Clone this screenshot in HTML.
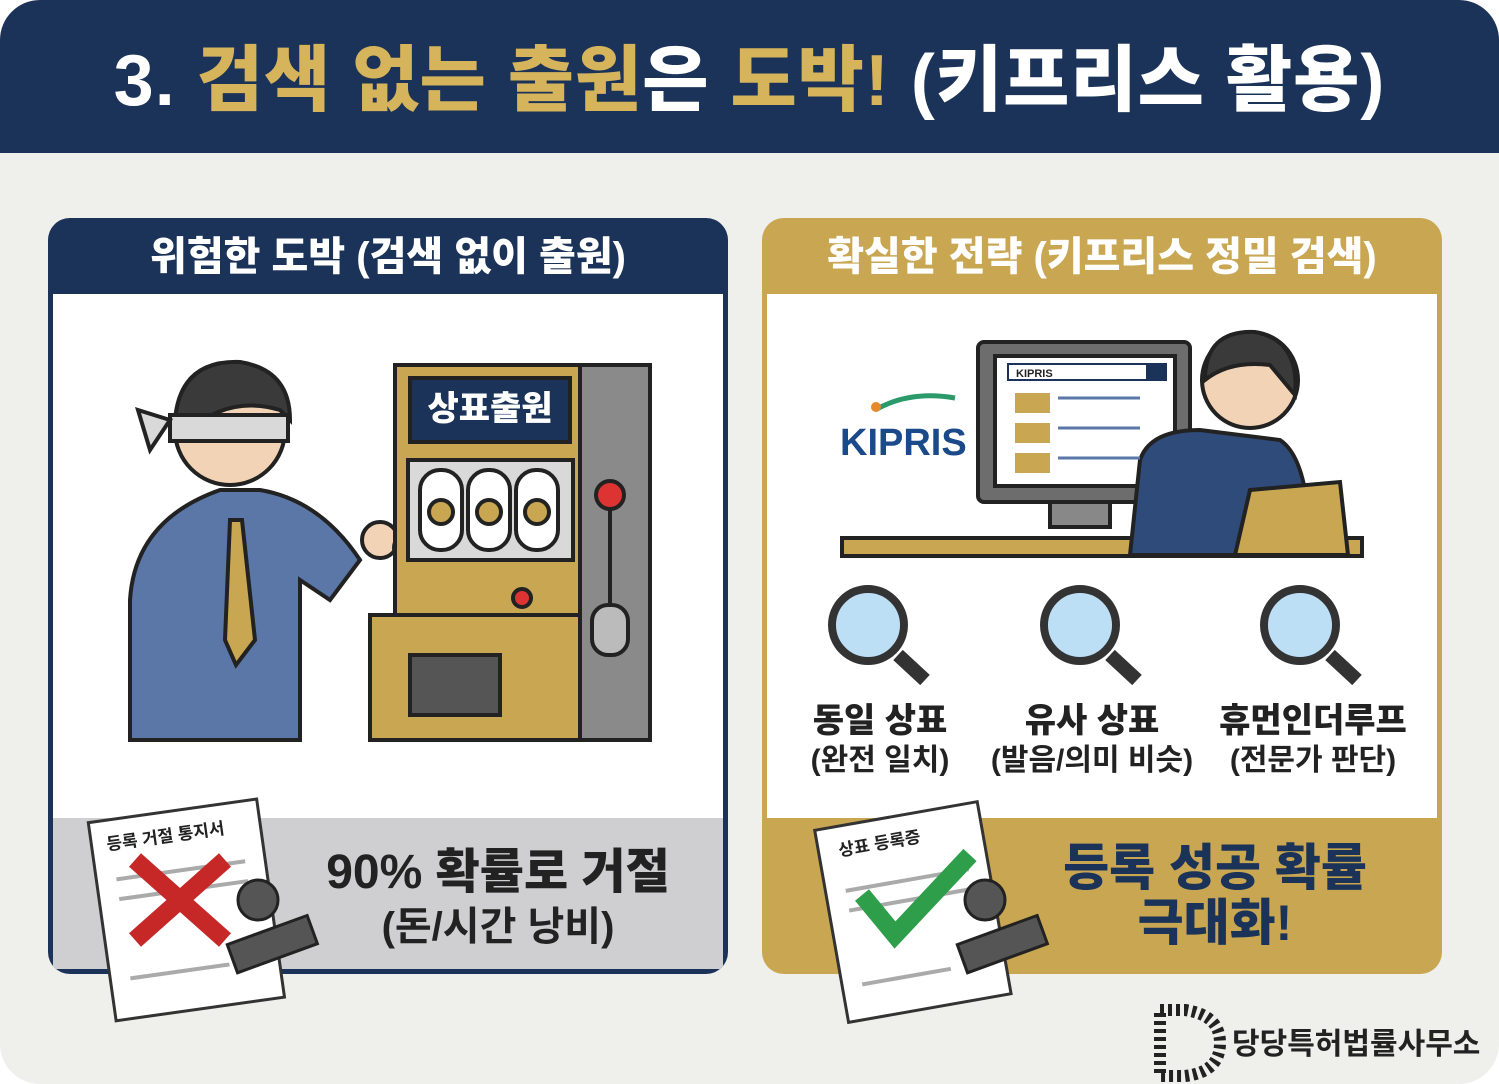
<!DOCTYPE html>
<html><head><meta charset="utf-8"><style>
body{margin:0;width:1499px;height:1084px;background:#fff;overflow:hidden;font-family:"Liberation Sans","Noto Sans CJK KR",sans-serif}
.page{position:absolute;left:0;top:0;width:1499px;height:1084px;background:#efefeb;border-radius:40px;overflow:hidden}
.hdr{position:absolute;left:0;top:0;width:1499px;height:153px;background:#1b3358;color:#fff;font-weight:900;font-size:72px;text-align:center;line-height:162px;letter-spacing:1px}
.g{color:#d6b45c}
.panel{position:absolute;top:218px;width:680px;height:756px;border-radius:22px;overflow:hidden}
.ph{position:absolute;left:0;top:0;width:100%;height:76px;color:#fff;font-weight:900;font-size:40px;text-align:center;line-height:78px}
.body{position:absolute;left:5px;top:76px;width:670px;height:524px;background:#fff}
.bot{position:absolute;left:5px;top:600px;width:670px;height:151px}
</style></head><body><div class="page">
<div class="hdr">3. <span class="g">검색 없는 출원</span>은 <span class="g">도박!</span> (키프리스 활용)</div>

<div class="panel" style="left:48px;background:#1b3358">
<div class="ph">위험한 도박 (검색 없이 출원)</div>
<div class="body"></div>
<div class="bot" style="background:#cfcfd1"></div>
</div>

<div class="panel" style="left:762px;background:#c9a652">
<div class="ph">확실한 전략 (키프리스 정밀 검색)</div>
<div class="body"></div>
<div class="bot" style="background:#c9a652"></div>
</div>

<svg width="1499" height="1084" style="position:absolute;left:0;top:0">
<g stroke="#222" stroke-width="4">
<path d="M130 740 L130 600 Q135 520 220 490 L260 490 Q320 500 360 560 L330 600 L300 580 L300 740 Z" fill="#5a77a8"/>
<circle cx="230" cy="430" r="55" fill="#f3d3b5"/>
<path d="M175 420 Q180 360 240 362 Q290 370 290 420 L280 410 Q230 395 190 430 Z" fill="#3a3a3a"/>
<rect x="170" y="415" width="118" height="26" fill="#d9d9d9"/>
<path d="M170 420 L138 410 L150 450 Z" fill="#d9d9d9"/>
<path d="M230 520 L242 520 L255 640 L236 665 L225 640 Z" fill="#c9a652"/>
<circle cx="380" cy="540" r="18" fill="#f3d3b5"/>
<circle cx="410" cy="548" r="16" fill="#c9a652"/>
<rect x="395" y="365" width="255" height="375" fill="#8a8a8a"/>
<rect x="395" y="365" width="185" height="255" fill="#c9a652"/>
<rect x="410" y="378" width="160" height="64" fill="#1b3358"/>
<rect x="408" y="460" width="165" height="100" fill="#d9d9d9"/>
<rect x="420" y="470" width="42" height="80" rx="20" fill="#fff"/>
<rect x="468" y="470" width="42" height="80" rx="20" fill="#fff"/>
<rect x="516" y="470" width="42" height="80" rx="20" fill="#fff"/>
<circle cx="441" cy="512" r="12" fill="#c9a652"/><circle cx="489" cy="512" r="12" fill="#c9a652"/><circle cx="537" cy="512" r="12" fill="#c9a652"/>
<rect x="370" y="615" width="210" height="125" fill="#c9a652"/>
<rect x="410" y="655" width="90" height="60" fill="#555"/>
<circle cx="610" cy="495" r="14" fill="#d33"/>
<line x1="610" y1="510" x2="610" y2="610"/>
<rect x="592" y="605" width="36" height="50" rx="16" fill="#bbb"/>
<circle cx="522" cy="598" r="9" fill="#d33"/>
</g>
<text x="490" y="420" fill="#fff" font-size="34" font-weight="900" text-anchor="middle" font-family="Liberation Sans,Noto Sans CJK KR,sans-serif">상표출원</text>
<g transform="rotate(-8 185 900)"><rect x="100" y="810" width="170" height="200" fill="#fff" stroke="#333" stroke-width="3"/>
<line x1="120" y1="870" x2="250" y2="870" stroke="#aaa" stroke-width="4"/><line x1="120" y1="890" x2="250" y2="890" stroke="#aaa" stroke-width="4"/><line x1="120" y1="970" x2="220" y2="970" stroke="#aaa" stroke-width="4"/>
<text x="115" y="840" font-size="17" font-weight="700" fill="#222" font-family="Liberation Sans,Noto Sans CJK KR,sans-serif">등록 거절 통지서</text></g>
<path d="M135 860 L225 940 M225 860 L135 940" stroke="#c62828" stroke-width="18"/>
<g stroke="#222" stroke-width="3"><rect x="230" y="930" width="85" height="30" fill="#555" transform="rotate(-20 270 945)"/><circle cx="258" cy="900" r="20" fill="#555"/></g>
<text x="498" y="888" font-size="48" font-weight="900" fill="#222" text-anchor="middle" font-family="Liberation Sans,Noto Sans CJK KR,sans-serif">90% 확률로 거절</text>
<text x="498" y="940" font-size="40" font-weight="700" fill="#222" text-anchor="middle" font-family="Liberation Sans,Noto Sans CJK KR,sans-serif">(돈/시간 낭비)</text>

<text x="840" y="455" font-size="38" font-weight="700" fill="#1b4a8a" font-family="Liberation Sans,sans-serif">KIPRIS</text>
<path d="M875 410 Q910 390 955 398" stroke="#2a9a6a" stroke-width="5" fill="none"/><circle cx="876" cy="407" r="5" fill="#e68a2a"/>
<g stroke="#222" stroke-width="4">
<rect x="978" y="342" width="212" height="160" rx="6" fill="#6d6d6d"/>
<rect x="995" y="356" width="180" height="130" fill="#fff"/>
<rect x="1050" y="502" width="60" height="25" fill="#888"/>
<rect x="842" y="538" width="520" height="18" fill="#c9a652"/>
<path d="M1130 555 L1140 460 Q1150 430 1200 430 L1280 440 Q1310 460 1310 555 Z" fill="#2f4b7a"/>
<circle cx="1250" cy="380" r="48" fill="#f3d3b5"/>
<path d="M1205 380 Q1205 330 1255 332 Q1300 340 1295 395 L1270 365 Q1230 360 1205 380Z" fill="#3a3a3a"/>
<path d="M1235 555 L1250 490 L1340 482 L1348 555 Z" fill="#c9a652"/>
</g>
<rect x="1008" y="364" width="158" height="16" fill="#fff" stroke="#1b3358" stroke-width="2"/><rect x="1146" y="364" width="20" height="16" fill="#1b3358"/>
<text x="1016" y="377" font-size="11" font-weight="700" fill="#222" font-family="Liberation Sans,sans-serif">KIPRIS</text>
<g fill="#c9a652"><rect x="1015" y="393" width="35" height="20"/><rect x="1015" y="423" width="35" height="20"/><rect x="1015" y="453" width="35" height="20"/></g>
<g stroke="#5a77a8" stroke-width="3"><line x1="1058" y1="398" x2="1140" y2="398"/><line x1="1058" y1="428" x2="1140" y2="428"/><line x1="1058" y1="458" x2="1140" y2="458"/></g>
<g stroke="#333" stroke-width="8">
<g><line x1="898" y1="655" x2="925" y2="680" stroke-width="14"/><circle cx="868" cy="625" r="36" fill="#bcdff5"/></g>
<g><line x1="1110" y1="655" x2="1137" y2="680" stroke-width="14"/><circle cx="1080" cy="625" r="36" fill="#bcdff5"/></g>
<g><line x1="1330" y1="655" x2="1357" y2="680" stroke-width="14"/><circle cx="1300" cy="625" r="36" fill="#bcdff5"/></g>
</g>
<g font-family="Liberation Sans,Noto Sans CJK KR,sans-serif" fill="#222" text-anchor="middle">
<text x="880" y="732" font-size="34" font-weight="900">동일 상표</text><text x="880" y="770" font-size="30" font-weight="700">(완전 일치)</text>
<text x="1092" y="732" font-size="34" font-weight="900">유사 상표</text><text x="1092" y="770" font-size="30" font-weight="700">(발음/의미 비슷)</text>
<text x="1313" y="732" font-size="34" font-weight="900">휴먼인더루프</text><text x="1313" y="770" font-size="30" font-weight="700">(전문가 판단)</text>
</g>
<g transform="rotate(-10 910 910)"><rect x="830" y="815" width="165" height="195" fill="#fff" stroke="#333" stroke-width="3"/>
<line x1="850" y1="880" x2="975" y2="880" stroke="#aaa" stroke-width="4"/><line x1="850" y1="900" x2="975" y2="900" stroke="#aaa" stroke-width="4"/><line x1="850" y1="975" x2="940" y2="975" stroke="#aaa" stroke-width="4"/>
<text x="850" y="845" font-size="17" font-weight="700" fill="#222" font-family="Liberation Sans,Noto Sans CJK KR,sans-serif">상표 등록증</text></g>
<path d="M862 895 L895 935 L970 855" stroke="#2e9e4a" stroke-width="18" fill="none"/>
<g stroke="#222" stroke-width="3"><rect x="960" y="930" width="85" height="30" fill="#555" transform="rotate(-20 1000 945)"/><circle cx="985" cy="900" r="20" fill="#555"/></g>
<text x="1215" y="885" font-size="50" font-weight="900" fill="#1b3358" text-anchor="middle" font-family="Liberation Sans,Noto Sans CJK KR,sans-serif">등록 성공 확률</text>
<text x="1215" y="940" font-size="50" font-weight="900" fill="#1b3358" text-anchor="middle" font-family="Liberation Sans,Noto Sans CJK KR,sans-serif">극대화!</text>
<path d="M1160 1010 L1185 1010 Q1220 1015 1220 1043 Q1220 1072 1185 1076 L1160 1076 Z" fill="none" stroke="#222" stroke-width="12" stroke-dasharray="4 4"/>
<text x="1232" y="1054" font-size="30" font-weight="700" fill="#222" font-family="Liberation Sans,Noto Sans CJK KR,sans-serif">당당특허법률사무소</text>
</svg>
</div></body></html>
